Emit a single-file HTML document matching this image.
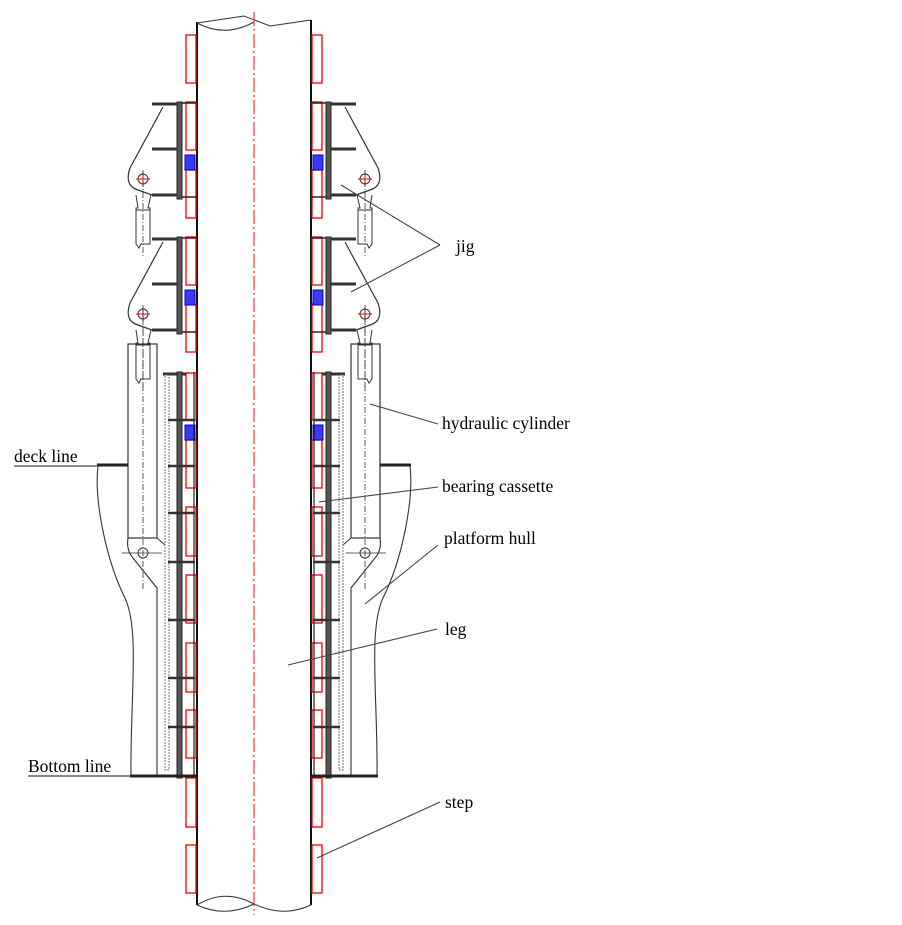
<!DOCTYPE html>
<html><head><meta charset="utf-8"><style>
html,body{margin:0;padding:0;background:#fff;}
svg{display:block;}
text{font-family:"Liberation Serif",serif;font-size:17.5px;fill:#000;}
</style></head><body>
<svg width="902" height="925" viewBox="0 0 902 925" xmlns="http://www.w3.org/2000/svg">
<defs>
<g id="side" fill="none">
  <g stroke="#e00" stroke-width="1.3">
    <rect x="186" y="35" width="10" height="48"/>
    <rect x="186" y="102" width="10" height="48"/>
    <rect x="186" y="170" width="10" height="48"/>
    <rect x="186" y="237" width="10" height="48"/>
    <rect x="186" y="304" width="10" height="48"/>
    <rect x="186" y="373" width="10" height="47"/>
    <rect x="186" y="440" width="10" height="48"/>
    <rect x="186" y="507" width="10" height="49"/>
    <rect x="186" y="575" width="10" height="48"/>
    <rect x="186" y="643" width="10" height="49"/>
    <rect x="186" y="710" width="10" height="48"/>
    <rect x="186" y="778" width="10" height="49"/>
    <rect x="186" y="845" width="10" height="48"/>
  </g>
  <g fill="#3a3af0" stroke="#00c" stroke-width="1">
    <rect x="185" y="155" width="10" height="15"/>
    <rect x="185" y="290" width="10" height="15"/>
    <rect x="185" y="425" width="10" height="15"/>
  </g>
  <g id="jig">
    <rect x="177" y="102" width="5" height="97" fill="#555" stroke="#222" stroke-width="1"/>
    <line x1="182" y1="103" x2="196" y2="103" stroke="#222" stroke-width="1.5"/>
    <line x1="182" y1="197" x2="196" y2="197" stroke="#222" stroke-width="1.5"/>
    <line x1="152" y1="104" x2="177" y2="104" stroke="#333" stroke-width="3"/>
    <line x1="152" y1="149" x2="177" y2="149" stroke="#333" stroke-width="3"/>
    <line x1="152" y1="195" x2="177" y2="195" stroke="#333" stroke-width="3"/>
    <path d="M163,107 L130,168 Q124,186 138,190 L152,195" stroke="#333" stroke-width="1.2"/>
    <circle cx="143" cy="179" r="5" stroke="#333" stroke-width="1"/>
    <line x1="136" y1="179" x2="150" y2="179" stroke="#e00" stroke-width="1"/>
    <line x1="143" y1="172" x2="143" y2="186" stroke="#e00" stroke-width="1"/>
    <path d="M136,195 L138,208 L136,208 L136,244 L139,248 L141,244 L150,244 L150,208 L148,208 L151,195" stroke="#333" stroke-width="1"/>
    <line x1="136" y1="210" x2="150" y2="210" stroke="#333" stroke-width="1"/>
    <line x1="143" y1="170" x2="143" y2="256" stroke="#333" stroke-width="0.8" stroke-dasharray="6,2,1,2"/>
  </g>
  <use href="#jig" transform="translate(0,135)"/>
  <rect x="128" y="344" width="29" height="194" stroke="#333" stroke-width="1.2"/>
  <line x1="143" y1="308" x2="143" y2="590" stroke="#333" stroke-width="0.8" stroke-dasharray="6,2,1,2"/>
  <circle cx="143" cy="553" r="5" stroke="#333" stroke-width="1"/>
  <line x1="122" y1="553" x2="162" y2="553" stroke="#333" stroke-width="0.8"/>
  <path d="M128,538 Q126,550 133,558 L157,588 L157,777" stroke="#333" stroke-width="1.1"/>
  <path d="M157,538 L165,545" stroke="#333" stroke-width="1"/>
  <line x1="163" y1="374" x2="186" y2="374" stroke="#333" stroke-width="3"/>
  <rect x="165" y="375" width="4" height="395" stroke="#777" stroke-width="1" stroke-dasharray="2,1"/>
  <rect x="177" y="372" width="5" height="406" fill="#555" stroke="#222" stroke-width="1"/>
  <line x1="194" y1="372" x2="194" y2="778" stroke="#222" stroke-width="1.2"/>
  <g stroke="#333" stroke-width="2.5">
    <line x1="168" y1="420" x2="195" y2="420"/>
    <line x1="168" y1="466" x2="195" y2="466"/>
    <line x1="168" y1="513" x2="195" y2="513"/>
    <line x1="168" y1="562" x2="195" y2="562"/>
    <line x1="168" y1="620" x2="195" y2="620"/>
    <line x1="168" y1="678" x2="195" y2="678"/>
    <line x1="168" y1="727" x2="195" y2="727"/>
  </g>
  <line x1="97" y1="465" x2="128" y2="465" stroke="#222" stroke-width="3"/>
  <path d="M98,466 C94,500 106,560 125,598 C140,630 130,700 131,776" stroke="#333" stroke-width="1.1"/>
  <line x1="130" y1="776" x2="197" y2="776" stroke="#222" stroke-width="3"/>
</g>
</defs>

<line x1="197" y1="22" x2="197" y2="905" stroke="#111" stroke-width="2"/>
<line x1="311" y1="20" x2="311" y2="905" stroke="#111" stroke-width="2"/>
<path d="M197,23 L244,16 L270,26 L311,20" fill="none" stroke="#333" stroke-width="1"/>
<path d="M197,23 Q225,38 254,22" fill="none" stroke="#333" stroke-width="1"/>
<path d="M197,905 Q225,888 254,904 Q283,918 311,905" fill="none" stroke="#333" stroke-width="1"/>
<path d="M197,905 Q225,918 254,904" fill="none" stroke="#333" stroke-width="1"/>
<line x1="254" y1="12" x2="254" y2="915" stroke="#e33" stroke-width="1.2" stroke-dasharray="14,3,2,3"/>

<use href="#side"/>
<use href="#side" transform="translate(508,0) scale(-1,1)"/>

<line x1="14" y1="466" x2="98" y2="466" stroke="#444" stroke-width="1.2"/>
<line x1="28" y1="776" x2="131" y2="776" stroke="#444" stroke-width="1.2"/>

<g stroke="#444" stroke-width="1.1">
  <line x1="440" y1="245" x2="341" y2="185"/>
  <line x1="440" y1="245" x2="351" y2="292"/>
  <line x1="438" y1="424" x2="370" y2="404"/>
  <line x1="438" y1="487" x2="319" y2="502"/>
  <line x1="438" y1="545" x2="365" y2="604"/>
  <line x1="437" y1="629" x2="288" y2="665"/>
  <line x1="440" y1="802" x2="317" y2="858"/>
</g>

<text x="456" y="252">jig</text>
<text x="442" y="429">hydraulic cylinder</text>
<text x="442" y="492">bearing cassette</text>
<text x="444" y="544">platform hull</text>
<text x="445" y="635">leg</text>
<text x="445" y="808">step</text>
<text x="14" y="462">deck line</text>
<text x="28" y="772">Bottom line</text>
</svg>
</body></html>
